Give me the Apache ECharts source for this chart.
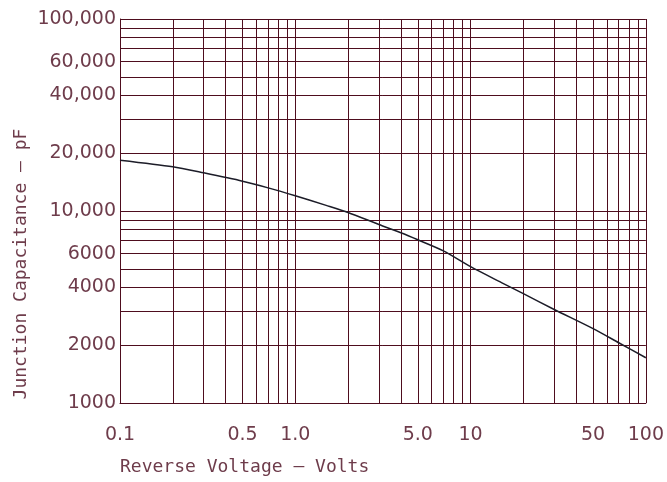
<!DOCTYPE html>
<html><head><meta charset="utf-8">
<script src="https://cdn.jsdelivr.net/npm/echarts@6/dist/echarts.min.js"></script>
<style>html,body{margin:0;padding:0;background:#fff}#c{width:667px;height:482px}</style>
</head><body><div id="c"></div>
<script>
// Data
const voltage     = [0.1, 0.2, 0.3, 0.5, 0.7, 1, 1.5, 2, 3, 4, 5, 7, 10, 15, 20, 30, 50, 70, 100];
const capacitance = [18400, 17000, 15800, 14300, 13200, 12000, 10700, 9830, 8500, 7700, 7080, 6200, 5130, 4240, 3710, 3070, 2440, 2060, 1720];

const xGridValues  = [0.1,0.2,0.3,0.4,0.5,0.6,0.7,0.8,0.9,1,2,3,4,5,6,7,8,9,10,20,30,40,50,60,70,80,90,100];
const xLabelValues = [0.1, 0.5, 1, 5, 10, 50, 100];
const xLabelText   = ['0.1', '0.5', '1.0', '5.0', '10', '50', '100'];

const yGridValues  = [1000,2000,3000,4000,5000,6000,7000,8000,9000,10000,20000,30000,40000,50000,60000,70000,80000,90000,100000];
const yLabelValues = [1000, 2000, 4000, 6000, 10000, 20000, 40000, 60000, 100000];
const yLabelText   = ['1000', '2000', '4000', '6000', '10,000', '20,000', '40,000', '60,000', '100,000'];

const gridColor = '#4e0d1e';
const textColor = '#6e3c4b';
const fontFamily = 'DejaVu Sans';
const nameFont = 'DejaVu Sans Mono';

function lookup(v, vals, texts) {
  for (let i = 0; i < vals.length; i++) {
    if (Math.abs(v - vals[i]) / vals[i] < 1e-6) return texts[i];
  }
  return '';
}

const chart = echarts.init(document.getElementById('c'));
chart.setOption({
  animation: false,
  backgroundColor: '#ffffff',
  grid: { left: 120, right: 18, top: 19, bottom: 79, containLabel: false },
  xAxis: {
    type: 'log',
    min: 0.1, max: 100,
    name: 'Reverse Voltage — Volts',
    nameLocation: 'start',
    nameGap: 0,
    nameTextStyle: { color: textColor, fontFamily: nameFont, fontSize: 18, align: 'left', verticalAlign: 'top', padding: [55, 0, 0, 0] },
    axisLine: { show: true, lineStyle: { color: gridColor, width: 1 } },
    axisTick: { show: false, customValues: xGridValues },
    axisLabel: {
      customValues: xLabelValues,
      color: textColor, fontFamily: fontFamily, fontSize: 19, margin: 23,
      formatter: v => lookup(v, xLabelValues, xLabelText)
    },
    splitLine: { show: true, lineStyle: { color: gridColor, width: 1 } },
    minorSplitLine: { show: false }
  },
  yAxis: {
    type: 'log',
    min: 1000, max: 100000,
    axisLine: { show: true, lineStyle: { color: gridColor, width: 1 } },
    axisTick: { show: false, customValues: yGridValues },
    axisLabel: {
      customValues: yLabelValues,
      color: textColor, fontFamily: fontFamily, fontSize: 19, margin: 4,
      formatter: v => lookup(v, yLabelValues, yLabelText)
    },
    splitLine: { show: true, lineStyle: { color: gridColor, width: 1 } }
  },
  graphic: [{
    type: 'text',
    x: 21, y: 264,
    rotation: Math.PI / 2,
    style: {
      text: 'Junction Capacitance — pF',
      fill: textColor,
      font: '18px "DejaVu Sans Mono"',
      align: 'center',
      verticalAlign: 'middle'
    }
  }],
  series: [{
    type: 'line',
    data: voltage.map((v, i) => [v, capacitance[i]]),
    showSymbol: false,
    smooth: 0.25,
    lineStyle: { color: '#1c1c28', width: 1.5 },
    z: 5
  }]
});
</script>
</body></html>
